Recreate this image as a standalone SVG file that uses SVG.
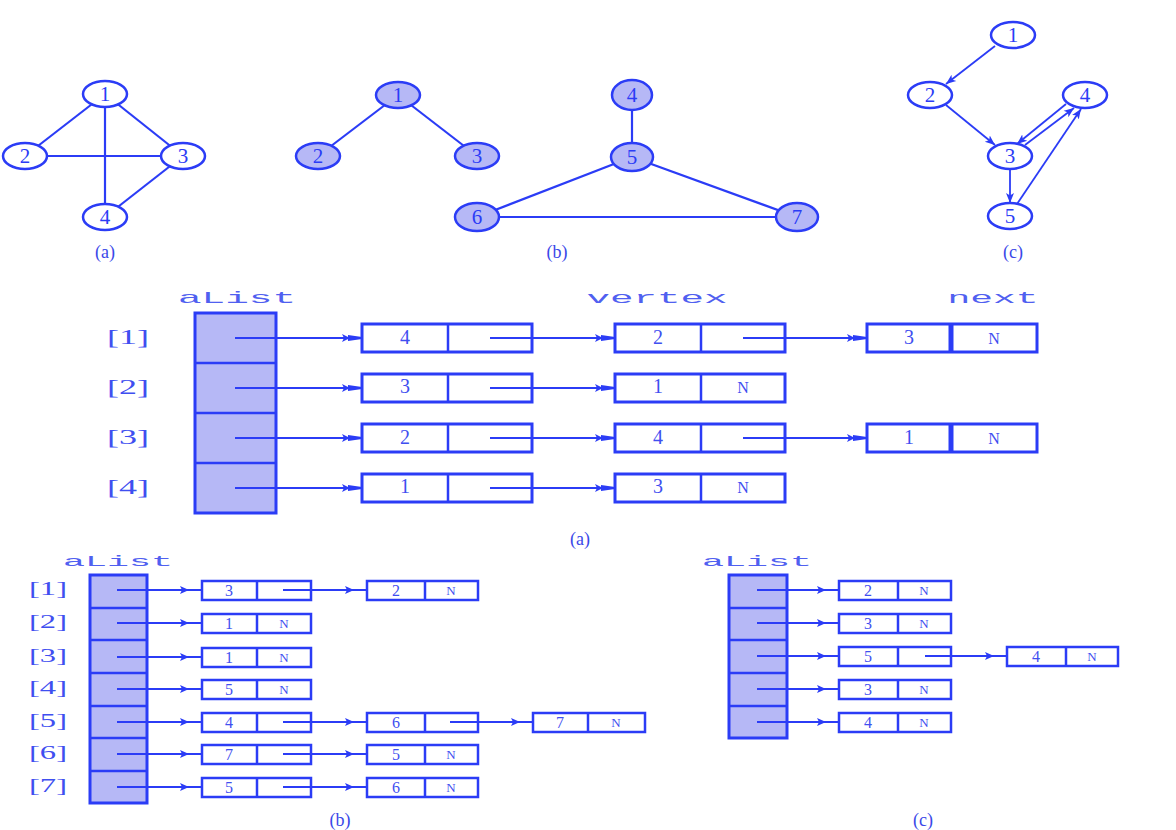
<svg xmlns="http://www.w3.org/2000/svg" width="1176" height="830" viewBox="0 0 1176 830">
<style>
.bg{fill:#ffffff}
.e{fill:none;stroke:#2b3cf6;stroke-width:2.2}
.n{fill:#ffffff;stroke:#2b3cf6;stroke-width:2.5}
.nf{fill:#b6b8f6;stroke:#2b3cf6;stroke-width:2.5}
.nt{font-family:"Liberation Serif",serif;font-size:21px;fill:#2b3cf6;text-anchor:middle}
.cap{font-family:"Liberation Serif",serif;font-size:18px;fill:#3a48e8;text-anchor:middle}
.arr{fill:#b6b8f6;stroke:#2b3cf6;stroke-width:3}
.dv{stroke:#2b3cf6;stroke-width:2.5}
.bx{fill:#ffffff;stroke:#2b3cf6;stroke-width:3}
.bxs{fill:#ffffff;stroke:#2b3cf6;stroke-width:2.5}
.pa{fill:none;stroke:#2b3cf6;stroke-width:2;marker-end:url(#ha)}
.pb{fill:none;stroke:#2b3cf6;stroke-width:2;marker-end:url(#hb)}
.ca{fill:none;stroke:#2b3cf6;stroke-width:1.8;marker-end:url(#hc)}
.v{font-family:"Liberation Serif",serif;font-size:20px;fill:#3f4ff0;text-anchor:middle}
.vn{font-family:"Liberation Serif",serif;font-size:16px;fill:#3f4ff0;text-anchor:middle}
.vs{font-family:"Liberation Serif",serif;font-size:16px;fill:#3f4ff0;text-anchor:middle}
.vsn{font-family:"Liberation Serif",serif;font-size:13px;fill:#3f4ff0;text-anchor:middle}
.m{font-family:"Liberation Mono",monospace;font-size:17px;fill:#5060f0;text-anchor:middle}
.ms{font-family:"Liberation Mono",monospace;font-size:15px;fill:#5060f0;text-anchor:middle}
.ix{font-family:"Liberation Serif",serif;font-size:20px;fill:#3f4ff0;text-anchor:middle}
.ixs{font-family:"Liberation Serif",serif;font-size:18px;fill:#3f4ff0;text-anchor:middle}
</style>
<defs>
<marker id="ha" markerUnits="userSpaceOnUse" markerWidth="22" markerHeight="12" refX="20" refY="5" orient="auto">
<path d="M0,1 L8,5 L0,9 L2,5 z M6,2 L20,4 L20,6 L6,8 z" fill="#2b3cf6"/>
</marker>
<marker id="hb" markerUnits="userSpaceOnUse" markerWidth="24" markerHeight="10" refX="22" refY="5" orient="auto">
<path d="M0,1 L9,5 L0,9 L2,5 z" fill="#2b3cf6"/>
</marker>
<marker id="hc" markerUnits="userSpaceOnUse" markerWidth="12" markerHeight="10" refX="10" refY="5" orient="auto">
<path d="M0,1 L10,5 L0,9 L2.5,5 z" fill="#2b3cf6"/>
</marker>
</defs>
<rect class="bg" x="0" y="0" width="1176" height="830"/>

<!-- ===== Graph (a) ===== -->
<g id="graph-a-edges">
<line class="e" x1="105" y1="94" x2="25" y2="156"/>
<line class="e" x1="105" y1="94" x2="183" y2="156"/>
<line class="e" x1="105" y1="94" x2="105" y2="217"/>
<line class="e" x1="25" y1="156" x2="183" y2="156"/>
<line class="e" x1="183" y1="156" x2="105" y2="217"/>
</g>
<g id="ga-n1"><ellipse class="n" cx="105" cy="94" rx="22" ry="13"/><text class="nt" x="105" y="101">1</text></g>
<g id="ga-n2"><ellipse class="n" cx="25" cy="156" rx="22" ry="13"/><text class="nt" x="25" y="163">2</text></g>
<g id="ga-n3"><ellipse class="n" cx="183" cy="156" rx="22" ry="13"/><text class="nt" x="183" y="163">3</text></g>
<g id="ga-n4"><ellipse class="n" cx="105" cy="217" rx="22" ry="13"/><text class="nt" x="105" y="224">4</text></g>
<text class="cap" x="105" y="258">(a)</text>

<!-- ===== Graph (b) ===== -->
<g id="graph-b-edges">
<line class="e" x1="398" y1="95" x2="318" y2="156"/>
<line class="e" x1="398" y1="95" x2="477" y2="156"/>
<line class="e" x1="632" y1="95" x2="632" y2="157"/>
<line class="e" x1="632" y1="157" x2="477" y2="217"/>
<line class="e" x1="632" y1="157" x2="797" y2="217"/>
<line class="e" x1="477" y1="217" x2="797" y2="217"/>
</g>
<g id="gb-n1"><ellipse class="nf" cx="398" cy="95" rx="22" ry="13"/><text class="nt" x="398" y="102">1</text></g>
<g id="gb-n2"><ellipse class="nf" cx="318" cy="156" rx="22" ry="13"/><text class="nt" x="318" y="163">2</text></g>
<g id="gb-n3"><ellipse class="nf" cx="477" cy="156" rx="22" ry="13"/><text class="nt" x="477" y="163">3</text></g>
<g id="gb-n4"><ellipse class="nf" cx="632" cy="95" rx="20" ry="15"/><text class="nt" x="632" y="102">4</text></g>
<g id="gb-n5"><ellipse class="nf" cx="632" cy="157" rx="21" ry="14"/><text class="nt" x="632" y="164">5</text></g>
<g id="gb-n6"><ellipse class="nf" cx="477" cy="217" rx="22" ry="14"/><text class="nt" x="477" y="224">6</text></g>
<g id="gb-n7"><ellipse class="nf" cx="797" cy="217" rx="21" ry="14"/><text class="nt" x="797" y="224">7</text></g>
<text class="cap" x="557" y="258">(b)</text>

<!-- ===== Graph (c) ===== -->
<g id="graph-c-edges">
<line class="ca" x1="995" y1="46" x2="946" y2="84"/>
<line class="ca" x1="946" y1="105" x2="995" y2="145"/>
<line class="ca" x1="1066" y1="104" x2="1017" y2="144"/>
<line class="ca" x1="1025" y1="145" x2="1074" y2="108"/>
<line class="ca" x1="1010" y1="169" x2="1010" y2="203"/>
<line class="ca" x1="1017" y1="204" x2="1081" y2="109"/>
</g>
<g id="gc-n1"><ellipse class="n" cx="1013" cy="35" rx="22" ry="13"/><text class="nt" x="1013" y="42">1</text></g>
<g id="gc-n2"><ellipse class="n" cx="930" cy="95" rx="22" ry="13"/><text class="nt" x="930" y="102">2</text></g>
<g id="gc-n3"><ellipse class="n" cx="1010" cy="156" rx="22" ry="13"/><text class="nt" x="1010" y="163">3</text></g>
<g id="gc-n4"><ellipse class="n" cx="1085" cy="95" rx="22" ry="13"/><text class="nt" x="1085" y="102">4</text></g>
<g id="gc-n5"><ellipse class="n" cx="1010" cy="216" rx="22" ry="13"/><text class="nt" x="1010" y="223">5</text></g>
<text class="cap" x="1013" y="258">(c)</text>

<!-- ===== Adjacency list (a) ===== -->
<g id="la-headers">
<text class="m" x="237" y="303" textLength="118" lengthAdjust="spacingAndGlyphs">aList</text>
<text class="m" x="657" y="303" textLength="141" lengthAdjust="spacingAndGlyphs">vertex</text>
<text class="m" x="993" y="303" textLength="91" lengthAdjust="spacingAndGlyphs">next</text>
<text class="ix" x="128" y="344" textLength="42" lengthAdjust="spacingAndGlyphs">[1]</text>
<text class="ix" x="128" y="394" textLength="42" lengthAdjust="spacingAndGlyphs">[2]</text>
<text class="ix" x="128" y="444" textLength="42" lengthAdjust="spacingAndGlyphs">[3]</text>
<text class="ix" x="128" y="494" textLength="42" lengthAdjust="spacingAndGlyphs">[4]</text>
</g>
<g id="la-array">
<rect class="arr" x="195" y="313" width="81" height="200"/>
<line class="dv" x1="195" y1="363" x2="276" y2="363"/>
<line class="dv" x1="195" y1="413" x2="276" y2="413"/>
<line class="dv" x1="195" y1="463" x2="276" y2="463"/>
</g>
<g id="la-connectors">
<line class="pa" x1="235" y1="338" x2="362" y2="338"/>
<line class="pa" x1="490" y1="338" x2="615" y2="338"/>
<line class="pa" x1="743" y1="338" x2="867" y2="338"/>
<line class="pa" x1="235" y1="388" x2="362" y2="388"/>
<line class="pa" x1="490" y1="388" x2="615" y2="388"/>
<line class="pa" x1="235" y1="438" x2="362" y2="438"/>
<line class="pa" x1="490" y1="438" x2="615" y2="438"/>
<line class="pa" x1="743" y1="438" x2="867" y2="438"/>
<line class="pa" x1="235" y1="488" x2="362" y2="488"/>
<line class="pa" x1="490" y1="488" x2="615" y2="488"/>
</g>
<g id="la-r1-n1"><rect class="bx" x="362" y="324" width="170" height="28" fill-opacity="0"/><line class="dv" x1="448" y1="324" x2="448" y2="352"/><text class="v" x="405" y="344">4</text></g>
<g id="la-r1-n2"><rect class="bx" x="615" y="324" width="170" height="28" fill-opacity="0"/><line class="dv" x1="701" y1="324" x2="701" y2="352"/><text class="v" x="658" y="344">2</text></g>
<g id="la-r1-n3"><rect class="bx" x="867" y="324" width="170" height="28"/><line class="dv" x1="951" y1="324" x2="951" y2="352" style="stroke-width:5"/><text class="v" x="909" y="344">3</text><text class="vn" x="994" y="344">N</text></g>
<g id="la-r2-n1"><rect class="bx" x="362" y="374" width="170" height="28" fill-opacity="0"/><line class="dv" x1="448" y1="374" x2="448" y2="402"/><text class="v" x="405" y="393">3</text></g>
<g id="la-r2-n2"><rect class="bx" x="615" y="374" width="170" height="28"/><line class="dv" x1="701" y1="374" x2="701" y2="402"/><text class="v" x="658" y="393">1</text><text class="vn" x="743" y="393">N</text></g>
<g id="la-r3-n1"><rect class="bx" x="362" y="424" width="170" height="28" fill-opacity="0"/><line class="dv" x1="448" y1="424" x2="448" y2="452"/><text class="v" x="405" y="444">2</text></g>
<g id="la-r3-n2"><rect class="bx" x="615" y="424" width="170" height="28" fill-opacity="0"/><line class="dv" x1="701" y1="424" x2="701" y2="452"/><text class="v" x="658" y="444">4</text></g>
<g id="la-r3-n3"><rect class="bx" x="867" y="424" width="170" height="28"/><line class="dv" x1="951" y1="424" x2="951" y2="452" style="stroke-width:5"/><text class="v" x="909" y="444">1</text><text class="vn" x="994" y="444">N</text></g>
<g id="la-r4-n1"><rect class="bx" x="362" y="474" width="170" height="28" fill-opacity="0"/><line class="dv" x1="448" y1="474" x2="448" y2="502"/><text class="v" x="405" y="493">1</text></g>
<g id="la-r4-n2"><rect class="bx" x="615" y="474" width="170" height="28"/><line class="dv" x1="701" y1="474" x2="701" y2="502"/><text class="v" x="658" y="493">3</text><text class="vn" x="743" y="493">N</text></g>
<text class="cap" x="580" y="545">(a)</text>

<!-- ===== Adjacency list (b) ===== -->
<g id="lb-headers">
<text class="ms" x="118" y="566" textLength="110" lengthAdjust="spacingAndGlyphs">aList</text>
<text class="ixs" x="48" y="595" textLength="38" lengthAdjust="spacingAndGlyphs">[1]</text>
<text class="ixs" x="48" y="628" textLength="38" lengthAdjust="spacingAndGlyphs">[2]</text>
<text class="ixs" x="48" y="662" textLength="38" lengthAdjust="spacingAndGlyphs">[3]</text>
<text class="ixs" x="48" y="694" textLength="38" lengthAdjust="spacingAndGlyphs">[4]</text>
<text class="ixs" x="48" y="727" textLength="38" lengthAdjust="spacingAndGlyphs">[5]</text>
<text class="ixs" x="48" y="759" textLength="38" lengthAdjust="spacingAndGlyphs">[6]</text>
<text class="ixs" x="48" y="792" textLength="38" lengthAdjust="spacingAndGlyphs">[7]</text>
</g>
<g id="lb-array">
<rect class="arr" x="90" y="575" width="57" height="228"/>
<line class="dv" x1="90" y1="608" x2="147" y2="608"/>
<line class="dv" x1="90" y1="640" x2="147" y2="640"/>
<line class="dv" x1="90" y1="673" x2="147" y2="673"/>
<line class="dv" x1="90" y1="706" x2="147" y2="706"/>
<line class="dv" x1="90" y1="738" x2="147" y2="738"/>
<line class="dv" x1="90" y1="771" x2="147" y2="771"/>
</g>
<g id="lb-connectors">
<line class="pb" x1="117" y1="590" x2="202" y2="590"/>
<line class="pb" x1="283" y1="590" x2="367" y2="590"/>
<line class="pb" x1="117" y1="623" x2="202" y2="623"/>
<line class="pb" x1="117" y1="657" x2="202" y2="657"/>
<line class="pb" x1="117" y1="689" x2="202" y2="689"/>
<line class="pb" x1="117" y1="722" x2="202" y2="722"/>
<line class="pb" x1="283" y1="722" x2="367" y2="722"/>
<line class="pb" x1="450" y1="722" x2="533" y2="722"/>
<line class="pb" x1="117" y1="754" x2="202" y2="754"/>
<line class="pb" x1="283" y1="754" x2="367" y2="754"/>
<line class="pb" x1="117" y1="787" x2="202" y2="787"/>
<line class="pb" x1="283" y1="787" x2="367" y2="787"/>
</g>
<g id="lb-r1-n1"><rect class="bxs" x="202" y="581" width="109" height="19" fill-opacity="0"/><line class="dv" x1="257" y1="581" x2="257" y2="600"/><text class="vs" x="229" y="596">3</text></g>
<g id="lb-r1-n2"><rect class="bxs" x="367" y="581" width="111" height="19"/><line class="dv" x1="425" y1="581" x2="425" y2="600"/><text class="vs" x="396" y="596">2</text><text class="vsn" x="451" y="595">N</text></g>
<g id="lb-r2-n1"><rect class="bxs" x="202" y="614" width="109" height="19"/><line class="dv" x1="257" y1="614" x2="257" y2="633"/><text class="vs" x="229" y="629">1</text><text class="vsn" x="284" y="628">N</text></g>
<g id="lb-r3-n1"><rect class="bxs" x="202" y="648" width="109" height="19"/><line class="dv" x1="257" y1="648" x2="257" y2="667"/><text class="vs" x="229" y="663">1</text><text class="vsn" x="284" y="662">N</text></g>
<g id="lb-r4-n1"><rect class="bxs" x="202" y="680" width="109" height="19"/><line class="dv" x1="257" y1="680" x2="257" y2="699"/><text class="vs" x="229" y="695">5</text><text class="vsn" x="284" y="694">N</text></g>
<g id="lb-r5-n1"><rect class="bxs" x="202" y="713" width="109" height="19" fill-opacity="0"/><line class="dv" x1="257" y1="713" x2="257" y2="732"/><text class="vs" x="229" y="728">4</text></g>
<g id="lb-r5-n2"><rect class="bxs" x="367" y="713" width="111" height="19" fill-opacity="0"/><line class="dv" x1="425" y1="713" x2="425" y2="732"/><text class="vs" x="396" y="728">6</text></g>
<g id="lb-r5-n3"><rect class="bxs" x="533" y="713" width="112" height="19"/><line class="dv" x1="588" y1="713" x2="588" y2="732"/><text class="vs" x="560" y="728">7</text><text class="vsn" x="616" y="727">N</text></g>
<g id="lb-r6-n1"><rect class="bxs" x="202" y="745" width="109" height="19" fill-opacity="0"/><line class="dv" x1="257" y1="745" x2="257" y2="764"/><text class="vs" x="229" y="760">7</text></g>
<g id="lb-r6-n2"><rect class="bxs" x="367" y="745" width="111" height="19"/><line class="dv" x1="425" y1="745" x2="425" y2="764"/><text class="vs" x="396" y="760">5</text><text class="vsn" x="451" y="759">N</text></g>
<g id="lb-r7-n1"><rect class="bxs" x="202" y="778" width="109" height="19" fill-opacity="0"/><line class="dv" x1="257" y1="778" x2="257" y2="797"/><text class="vs" x="229" y="793">5</text></g>
<g id="lb-r7-n2"><rect class="bxs" x="367" y="778" width="111" height="19"/><line class="dv" x1="425" y1="778" x2="425" y2="797"/><text class="vs" x="396" y="793">6</text><text class="vsn" x="451" y="792">N</text></g>
<text class="cap" x="340" y="826">(b)</text>

<!-- ===== Adjacency list (c) ===== -->
<g id="lc-headers">
<text class="ms" x="757" y="566" textLength="110" lengthAdjust="spacingAndGlyphs">aList</text>
</g>
<g id="lc-array">
<rect class="arr" x="729" y="575" width="58" height="163"/>
<line class="dv" x1="729" y1="608" x2="787" y2="608"/>
<line class="dv" x1="729" y1="640" x2="787" y2="640"/>
<line class="dv" x1="729" y1="673" x2="787" y2="673"/>
<line class="dv" x1="729" y1="706" x2="787" y2="706"/>
</g>
<g id="lc-connectors">
<line class="pb" x1="757" y1="590" x2="839" y2="590"/>
<line class="pb" x1="757" y1="623" x2="839" y2="623"/>
<line class="pb" x1="757" y1="656" x2="839" y2="656"/>
<line class="pb" x1="925" y1="656" x2="1007" y2="656"/>
<line class="pb" x1="757" y1="689" x2="839" y2="689"/>
<line class="pb" x1="757" y1="722" x2="839" y2="722"/>
</g>
<g id="lc-r1-n1"><rect class="bxs" x="839" y="581" width="112" height="19"/><line class="dv" x1="898" y1="581" x2="898" y2="600"/><text class="vs" x="868" y="596">2</text><text class="vsn" x="924" y="595">N</text></g>
<g id="lc-r2-n1"><rect class="bxs" x="839" y="614" width="112" height="19"/><line class="dv" x1="898" y1="614" x2="898" y2="633"/><text class="vs" x="868" y="629">3</text><text class="vsn" x="924" y="628">N</text></g>
<g id="lc-r3-n1"><rect class="bxs" x="839" y="647" width="112" height="19" fill-opacity="0"/><line class="dv" x1="898" y1="647" x2="898" y2="666"/><text class="vs" x="868" y="662">5</text></g>
<g id="lc-r3-n2"><rect class="bxs" x="1007" y="647" width="111" height="19"/><line class="dv" x1="1066" y1="647" x2="1066" y2="666"/><text class="vs" x="1036" y="662">4</text><text class="vsn" x="1092" y="661">N</text></g>
<g id="lc-r4-n1"><rect class="bxs" x="839" y="680" width="112" height="19"/><line class="dv" x1="898" y1="680" x2="898" y2="699"/><text class="vs" x="868" y="695">3</text><text class="vsn" x="924" y="694">N</text></g>
<g id="lc-r5-n1"><rect class="bxs" x="839" y="713" width="112" height="19"/><line class="dv" x1="898" y1="713" x2="898" y2="732"/><text class="vs" x="868" y="728">4</text><text class="vsn" x="924" y="727">N</text></g>
<text class="cap" x="923" y="826">(c)</text>
</svg>
